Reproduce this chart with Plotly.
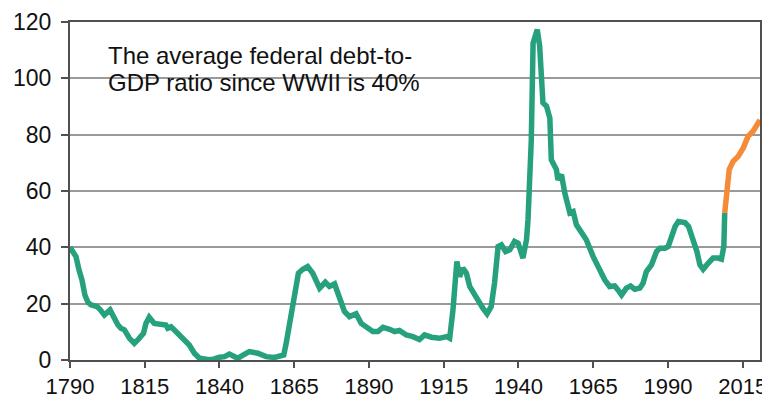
import plotly.graph_objects as go

# Historical federal debt-to-GDP ratio (%)
hist_years = [1790, 1791, 1792, 1793, 1794, 1795, 1796, 1797, 1799, 1800, 1801.5, 1803.4, 1804.8, 1806, 1807,
              1808.2, 1809.9, 1811.5, 1813, 1814.6, 1815.4, 1816.5, 1818.2, 1820.5, 1822.1, 1822.7, 1823.8,
              1826, 1828.3, 1829.9, 1831.6, 1833.3, 1836.1, 1838, 1840, 1841.7, 1843.3, 1846.1, 1848, 1850,
              1852.8, 1855.6, 1858.4, 1861.5, 1862.3, 1864, 1865.1, 1866.4, 1867.9, 1869.5, 1871.2, 1872.4,
              1873.5, 1875.4, 1876.8, 1878.5, 1880.2, 1881.8, 1883.5, 1885.7, 1887.4, 1889.6, 1891.3, 1893,
              1894.7, 1896.9, 1898.6, 1900.2, 1902.5, 1904.7, 1906.9, 1908.6, 1910.9, 1913.6, 1915.9, 1917,
              1918.1, 1919.4, 1920.3, 1921.4, 1922.6, 1923.7, 1925.9, 1928.1, 1929.5, 1930.9, 1932, 1933.2,
              1934.3, 1935.7, 1937.1, 1938.7, 1939.9, 1941.5, 1942.7, 1943.2, 1944.3, 1944.9, 1946.3, 1947.1,
              1948.2, 1949.4, 1950.5, 1951, 1952.7, 1953.2, 1954.4, 1955.5, 1957.2, 1958.3, 1959.4, 1961.1,
              1962.7, 1965, 1967.2, 1968.9, 1970.5, 1972.2, 1973.3, 1974.5, 1976.1, 1977.5, 1978.9, 1980.6,
              1981.7, 1982.8, 1984.5, 1986.2, 1987.3, 1989, 1990.1, 1991.2, 1992.4, 1993.5, 1995.7, 1996.9,
              1998.5, 1999.7, 2000.7, 2001.8, 2003.5, 2005.1, 2006.8, 2007.9, 2008.7, 2009]
hist_values = [40, 38.5, 36.7, 32, 28.4, 23, 20.5, 19.6, 19, 18, 16, 17.8, 14.8, 12.5, 11.3,
               10.7, 7.7, 5.9, 7.5, 9.5, 13, 15.2, 13, 12.4, 12.4, 11.3, 11.8,
               9.5, 7.1, 5.3, 2.4, 0.6, 0.2, 0.3, 1, 1.2, 2.1, 0.6, 1.8, 3,
               2.4, 1.2, 0.9, 1.8, 5.9, 16.6, 24.9, 30.8, 32.2, 33.2, 30.8, 27.3,
               25.5, 27.6, 26.1, 27, 21.3, 17.2, 15.4, 16.4, 13, 11.3, 10.1, 10.1,
               11.6, 10.9, 10.1, 10.5, 8.9, 8.3, 7.3, 8.9, 8.1, 7.7, 8.3, 7.7,
               17.8, 35, 29.6, 32.6, 30.8, 26.1, 21.9, 18.4, 16.4, 19, 27.3, 40.3,
               40.9, 38.5, 39.1, 42.1, 41.5, 36.2, 42.7, 49.8, 78.2, 112.6, 117.3, 111.4,
               91.3, 90.1, 85.9, 71.1, 67.6, 64, 65.8, 59.3, 52.2, 52.7, 48, 45.6,
               42.7, 36.7, 31.4, 28.4, 26.1, 26.3, 24.9, 23.1, 25.5, 26.3, 25.1, 25.5,
               27.3, 31.4, 33.8, 38.5, 39.7, 39.7, 40.3, 44.4, 47.4, 49.2, 48.8, 47.4,
               42.7, 38.5, 33.8, 32.2, 34.4, 36.2, 36.2, 35.8, 40.3, 52.2]

# Projection
proj_years = [2009, 2009.6, 2010.5, 2011.8, 2013.5, 2015.2, 2016.8, 2018.5, 2020.4, 2020.8]
proj_values = [52.2, 60.4, 67.6, 70.5, 72.3, 75.3, 79.4, 81.2, 84.7, 85.2]

x_ticks = [1790, 1815, 1840, 1865, 1890, 1915, 1940, 1965, 1990, 2015]
y_ticks = [0, 20, 40, 60, 80, 100, 120]

note_line1 = "The average federal debt-to-"
note_line2 = "GDP ratio since WWII is 40%"

TEAL = "#26A07D"
ORANGE = "#F58B36"
FONT = "Liberation Sans, Arial, sans-serif"

fig = go.Figure()
fig.add_trace(go.Scatter(x=hist_years, y=hist_values, mode="lines",
                         line=dict(color=TEAL, width=5.5), showlegend=False))
fig.add_trace(go.Scatter(x=proj_years, y=proj_values, mode="lines",
                         line=dict(color=ORANGE, width=5.5), showlegend=False))

# page body adds an 8px offset, so the figure is sized to fill 8..770 x 8..400
fig.update_layout(
    width=762, height=392,
    margin=dict(l=62, r=10, t=14, b=40),
    paper_bgcolor="white", plot_bgcolor="white",
    font=dict(family=FONT, size=22, color="#111111"),
)
fig.update_xaxes(range=[1790, 2020.8], tickvals=x_ticks, ticktext=[str(v) for v in x_ticks],
                 showgrid=False, zeroline=False, showline=True, linecolor="#505050", linewidth=2,
                 mirror=True, ticks="outside", ticklen=6, tickwidth=2, tickcolor="#505050",
                 tickfont=dict(size=22), automargin=False)
fig.update_yaxes(range=[0, 120], tickvals=y_ticks, showgrid=True, gridcolor="#9a9a9a", gridwidth=1.5,
                 zeroline=False, showline=True, linecolor="#505050", linewidth=2, mirror=True,
                 ticks="outside", ticklen=7, tickwidth=2, tickcolor="#505050",
                 tickfont=dict(size=23), ticklabelstandoff=5, automargin=False)

# white patch hiding the gridline behind the note
fig.add_shape(type="rect", xref="paper", yref="y", x0=0.039, x1=0.533, y0=96, y1=104,
              fillcolor="white", line=dict(width=0), layer="between")

fig.add_annotation(xref="paper", yref="paper", x=0.052, y=0.902, xanchor="left", yanchor="middle",
                   text=note_line1, showarrow=False, align="left",
                   font=dict(size=24, color="#111111", family=FONT))
fig.add_annotation(xref="paper", yref="paper", x=0.052, y=0.820, xanchor="left", yanchor="middle",
                   text=note_line2, showarrow=False, align="left",
                   font=dict(size=24, color="#111111", family=FONT))

fig.write_html("out.html")
